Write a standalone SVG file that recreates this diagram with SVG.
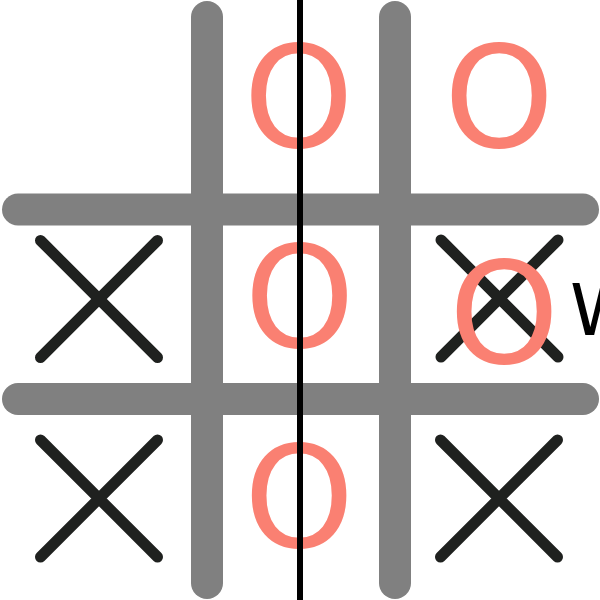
<svg xmlns="http://www.w3.org/2000/svg" width="600" height="600" viewBox="0 0 600 600">
  <style>
    .grid { stroke: #808080; stroke-width: 32; stroke-linecap: round; fill: none; }
    .x { stroke: #1f211f; stroke-width: 11; stroke-linecap: round; fill: none; }
    .o { fill: #fa8072; font-family: "DejaVu Sans", sans-serif; font-size: 140px; text-anchor: middle; }
    .w { fill: #000000; font-family: "DejaVu Sans", sans-serif; font-size: 71px; }
  </style>
  <rect width="600" height="600" fill="#ffffff"/>
  <g id="grid">
    <line class="grid" x1="207" y1="17" x2="207" y2="583"/>
    <line class="grid" x1="395" y1="17" x2="395" y2="583"/>
    <line class="grid" x1="18" y1="209.5" x2="583" y2="209.5"/>
    <line class="grid" x1="18" y1="399" x2="583" y2="399"/>
  </g>
  <g id="x-mid-left"><path class="x" d="M40.5 240.5 L157.5 357.5 M157.5 240.5 L40.5 357.5"/></g>
  <g id="x-mid-right"><path class="x" d="M441 240 L558 357 M558 240 L441 357"/></g>
  <g id="x-bot-left"><path class="x" d="M40.5 440 L157.5 557 M157.5 440 L40.5 557"/></g>
  <g id="x-bot-right"><path class="x" d="M440.5 440 L557.5 557 M557.5 440 L440.5 557"/></g>
  <g id="o-top-mid"><text class="o" x="298.5" y="147">O</text></g>
  <g id="o-top-right"><text class="o" x="499" y="147">O</text></g>
  <g id="o-mid-mid"><text class="o" x="299.5" y="347.3">O</text></g>
  <g id="o-mid-right"><text class="o" x="504" y="363">O</text></g>
  <g id="o-bot-mid"><text class="o" x="299" y="547">O</text></g>
  <g id="label-w"><text class="w" x="570" y="335">W</text></g>
  <g id="divider"><line x1="300" y1="0" x2="300" y2="600" stroke="#000000" stroke-width="6"/></g>
</svg>
